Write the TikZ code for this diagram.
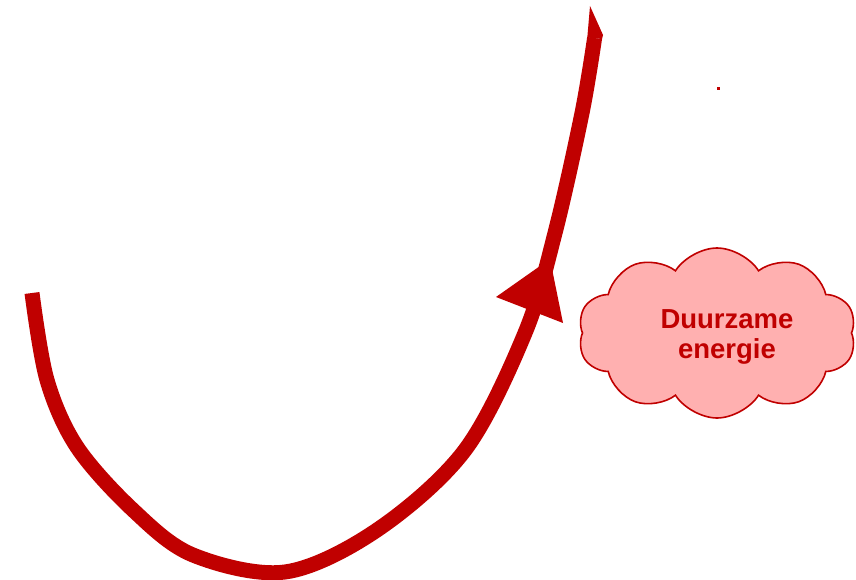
\documentclass[tikz,border=0pt]{standalone}
\usepackage{fontspec}
\setmainfont{Liberation Sans}
\usetikzlibrary{shapes.symbols}
\definecolor{dred}{HTML}{C00000}
\definecolor{pinkfill}{HTML}{FFB0B0}
\tikzset{
  bigline/.style={draw=dred, line width=15pt, line cap=butt, line join=round},
  cloudbox/.style={cloud, cloud puffs=10, cloud puff arc=115, aspect=1.65,
    draw=dred, fill=pinkfill, line width=1.6pt, inner sep=0pt,
    minimum width=278pt, minimum height=170pt},
  cloudtext/.style={text=dred, font=\bfseries\fontsize{27.5}{30}\selectfont, align=center}
}
\begin{document}
\begin{tikzpicture}[x=1pt,y=-1pt]
\useasboundingbox (0,0) rectangle (856,580);
% main curve
\draw[bigline] plot[smooth, tension=0.55] coordinates {
 (32,293) (47,380) (77,447) (133,510) (193,555) (285,572)
 (377,530) (465,450) (525,333) (555,233) (582,113) (594.6,38)};
% pointed top end
\fill[dred] (587.3,37.5) -- (590,6) -- (603,35) -- (602,39) -- cycle;
% mid arrowhead
\fill[dred] (550,259) -- (563,323) -- (496,297) -- cycle;
% tiny dot
\fill[dred] (716.5,87.5) rectangle (719.5,90.5);
% cloud
\node[cloudbox] (cl) at (717,333) {};
\node[cloudtext] (tx) at (727,337) {Duurzame\\energie};
\end{tikzpicture}
\end{document}
